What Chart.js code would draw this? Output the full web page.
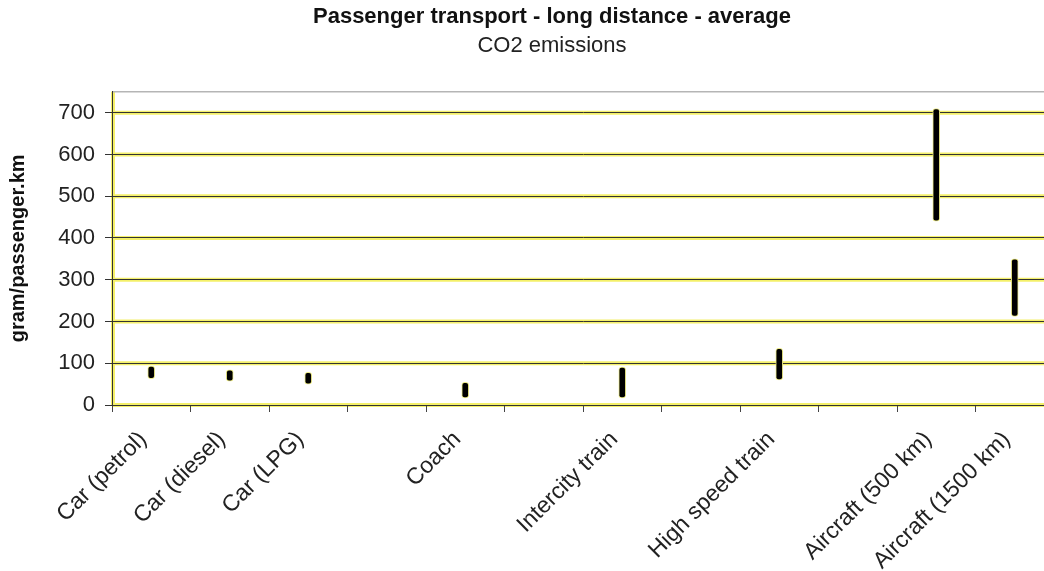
<!DOCTYPE html>
<html>
<head>
<meta charset="utf-8">
<script src="https://cdn.jsdelivr.net/npm/chart.js@4/dist/chart.umd.min.js"></script>
<style>
  html, body { margin: 0; padding: 0; background: #fff; overflow: hidden; }
  #wrap { width: 1104px; height: 571px; }
</style>
</head>
<body>
<div id="wrap"><canvas id="chart"></canvas></div>
<script>
const categories = ['Car (petrol)', 'Car (diesel)', 'Car (LPG)', '', 'Coach', '', 'Intercity train', '', 'High speed train', '', 'Aircraft (500 km)', 'Aircraft (1500 km)'];
const lows = [63, 57, 50, null, 17, null, 17, null, 60, null, 440, 212];
const highs = [93, 84, 78, null, 54, null, 91, null, 136, null, 710, 350];
const yTicks = [0, 100, 200, 300, 400, 500, 600, 700];

const FONT = '"Liberation Sans", Arial, sans-serif';

// yellow halo under the dark grid lines, plus grey top border
const halo = {
  id: 'halo',
  beforeDraw(chart) {
    const { ctx, chartArea, scales } = chart;
    ctx.save();
    ctx.fillStyle = '#fff';
    ctx.fillRect(0, 0, chart.width, chart.height);
    ctx.strokeStyle = '#f4f06a';
    ctx.lineWidth = 4;
    yTicks.forEach((v) => {
      const y = scales.y.getPixelForValue(v);
      ctx.beginPath();
      ctx.moveTo(chartArea.left, y);
      ctx.lineTo(chartArea.right, y);
      ctx.stroke();
    });
    ctx.beginPath();
    ctx.moveTo(chartArea.left + 1, chartArea.top);
    ctx.lineTo(chartArea.left + 1, chartArea.bottom);
    ctx.stroke();
    ctx.strokeStyle = '#b5b5b5';
    ctx.lineWidth = 1.5;
    ctx.beginPath();
    ctx.moveTo(chartArea.left, chartArea.top);
    ctx.lineTo(chartArea.right, chartArea.top);
    ctx.stroke();
    ctx.restore();
  },
};

const chartData = {
  labels: categories,
  datasets: [
    {
      data: categories.map((c, i) => (lows[i] === null ? null : [lows[i], highs[i]])),
      backgroundColor: '#000',
      borderColor: '#eeec8a',
      borderWidth: 1,
      borderSkipped: false,
      borderRadius: 3,
      barThickness: 7,
    },
  ],
};

const config = {
  type: 'bar',
  data: chartData,
  plugins: [halo],
  options: {
    responsive: true,
    maintainAspectRatio: false,
    animation: false,
    layout: { padding: 0 },
    plugins: {
      legend: { display: false },
      tooltip: { enabled: false },
      title: {
        display: true,
        text: 'Passenger transport - long distance - average',
        color: '#111',
        font: { family: FONT, size: 22, weight: 'bold' },
        padding: { top: 4, bottom: 2 },
      },
      subtitle: {
        display: true,
        text: 'CO2 emissions',
        color: '#222',
        font: { family: FONT, size: 22 },
        padding: { top: 0, bottom: 33 },
      },
    },
    scales: {
      x: {
        grid: {
          drawOnChartArea: false,
          drawTicks: true,
          tickLength: 7,
          tickColor: '#444',
        },
        border: { color: '#333', width: 1 },
        ticks: {
          autoSkip: false,
          minRotation: 45,
          maxRotation: 45,
          padding: 14,
          labelOffset: -8,
          color: '#222',
          font: { family: FONT, size: 23 },
        },
        afterFit: (s) => { s.height = 166; },
      },
      y: {
        min: 0,
        max: 750,
        grid: {
          color: '#333',
          lineWidth: 1,
          tickLength: 7,
          tickColor: '#333',
        },
        border: { color: '#333', width: 1 },
        ticks: {
          padding: 10,
          color: '#222',
          font: { family: FONT, size: 22 },
        },
        afterBuildTicks: (s) => { s.ticks = yTicks.map((v) => ({ value: v })); },
        title: {
          display: true,
          text: 'gram/passenger.km',
          color: '#111',
          font: { family: FONT, size: 20, weight: 'bold' },
          padding: { top: 6, bottom: 0 },
        },
        afterFit: (s) => { s.width = 112; },
      },
      // empty right-hand space: the plot runs past the picture's right edge
      spacer: {
        type: 'linear',
        position: 'right',
        grid: { display: false },
        ticks: { display: false },
        border: { display: false },
        afterFit: (s) => { s.width = 50; },
      },
    },
  },
};

new Chart(document.getElementById('chart').getContext('2d'), config);
</script>
</body>
</html>
